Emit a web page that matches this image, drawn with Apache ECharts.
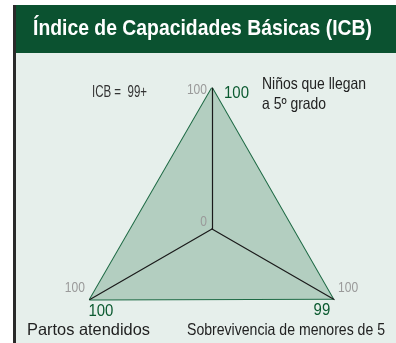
<!DOCTYPE html>
<html><head><meta charset="utf-8">
<script src="https://cdn.jsdelivr.net/npm/echarts@6/dist/echarts.min.js"></script>
<style>html,body{margin:0;padding:0;background:#fff}#c{width:396px;height:343px}</style>
</head><body><div id="c"></div>
<script>
const title = 'Índice de Capacidades Básicas (ICB)';
const indicators = ['Niños que llegan\na 5º grado', 'Partos atendidos', 'Sobrevivencia de menores de 5'];
const maxValues = [100, 100, 100];
const values = [100, 100, 99];
const icbText = 'ICB =  99+';

const FONT = '"Liberation Sans",Arial,sans-serif';
const cx = 212, cy = 229, R = 141;
const mctx = document.createElement('canvas').getContext('2d');
function sx(text, font, target) {
  mctx.font = font;
  const line = text.split('\n')[0];
  return target / mctx.measureText(line).width;
}
function pt(i, r) {
  const a = (90 + i * 120) * Math.PI / 180;
  return [cx + Math.cos(a) * r, cy - Math.sin(a) * r];
}
function txt(x, y, text, font, fill, align, valign, scale, extra) {
  const st = Object.assign({text: text, fill: fill, font: font, textAlign: align, textVerticalAlign: valign}, extra || {});
  return {type: 'text', x: x, y: y, scaleX: scale, z: 100, style: st};
}
const chart = echarts.init(document.getElementById('c'), null, {renderer: 'canvas'});
const fTitle = 'bold 22px ' + FONT;
const fName = '16.5px ' + FONT;
const fIcb = '16px ' + FONT;
const fGrey = '14px ' + FONT;
const fVal = '17px ' + FONT;
const GS = 0.86, VS = 0.88;
const g = [
  {type: 'rect', shape: {x: 13, y: 5, width: 3, height: 338}, style: {fill: '#2a2a2a'}, z: -10},
  {type: 'rect', shape: {x: 16, y: 5, width: 380, height: 48}, style: {fill: '#0b5230'}, z: -10},
  {type: 'rect', shape: {x: 16, y: 53, width: 380, height: 290}, style: {fill: '#e6efeb'}, z: -10},
  txt(33, 29, title, fTitle, '#fff', 'left', 'middle', sx(title, fTitle, 339)),
  txt(92, 93, icbText, fIcb, '#333', 'left', 'middle', sx(icbText, fIcb, 55))
];
const p0 = pt(0, R), p1 = pt(1, R), p2 = pt(2, R);
g.push(txt(p0[0] - 5, p0[1] + 2, String(maxValues[0]), fGrey, '#9a9a9a', 'right', 'middle', GS));
g.push(txt(p1[0] - 5, p1[1] - 11, String(maxValues[1]), fGrey, '#9a9a9a', 'right', 'middle', GS));
g.push(txt(p2[0] + 4, p2[1] - 11, String(maxValues[2]), fGrey, '#9a9a9a', 'left', 'middle', GS));
g.push(txt(cx - 5, cy - 6.5, '0', fGrey, '#9a9a9a', 'right', 'middle', GS));
const v0 = pt(0, R * values[0] / maxValues[0]), v1 = pt(1, R * values[1] / maxValues[1]), v2 = pt(2, R * values[2] / maxValues[2]);
g.push(txt(v0[0] + 12, v0[1] + 5.5, String(values[0]), fVal, '#0b5a30', 'left', 'middle', VS));
g.push(txt(v1[0] + 11, v1[1] + 12, String(values[1]), fVal, '#0b5a30', 'center', 'middle', VS));
g.push(txt(v2[0] - 11, v2[1] + 12, String(values[2]), fVal, '#0b5a30', 'center', 'middle', VS));
g.push(txt(262, 94, indicators[0], fName, '#222', 'left', 'middle', sx(indicators[0], fName, 104), {lineHeight: 20}));
g.push(txt(27, 330, indicators[1], fName, '#222', 'left', 'middle', sx(indicators[1], fName, 123)));
g.push(txt(187, 330, indicators[2], fName, '#222', 'left', 'middle', sx(indicators[2], fName, 198)));

chart.setOption({
  animation: false,
  backgroundColor: '#fff',
  graphic: g,
  radar: {
    center: [cx, cy], radius: R, startAngle: 90, shape: 'polygon', splitNumber: 1, z: 3,
    indicator: indicators.map((n, i) => ({name: n, max: maxValues[i], min: 0})),
    axisName: {show: false},
    splitLine: {show: false}, splitArea: {show: false},
    axisLine: {lineStyle: {color: '#1a1a1a', width: 1.2}},
    axisTick: {show: false}, axisLabel: {show: false}
  },
  series: [{
    type: 'radar', z: 2, symbol: 'none',
    data: [{value: values}],
    lineStyle: {color: '#1d6a44', width: 2},
    areaStyle: {color: '#b3cec0', opacity: 1}
  }]
});
</script></body></html>
